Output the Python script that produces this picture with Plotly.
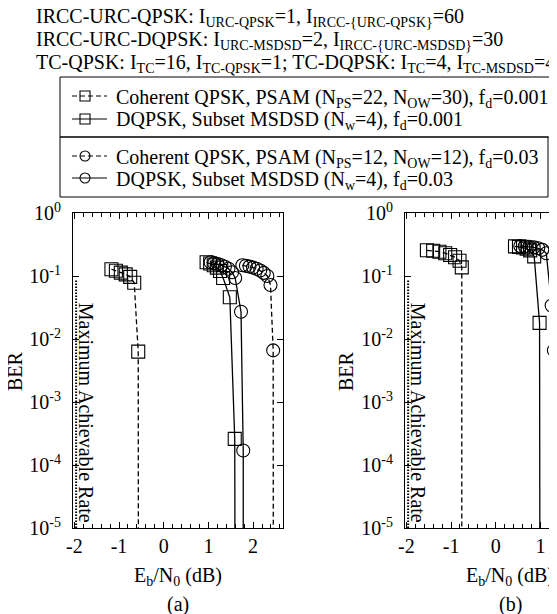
import plotly.graph_objects as go

FONT = "Liberation Serif, Times New Roman, serif"

# ---------------- data (Eb/N0 in dB, BER) ----------------
# subplot (a)
a_coh001_x = [-1.17, -1.07, -0.96, -0.85, -0.75, -0.66, -0.57, -0.565]
a_coh001_ber = [0.128, 0.121, 0.113, 0.106, 0.097, 0.078, 0.0063, 1e-7]
a_dq001_x = [0.96, 1.04, 1.12, 1.19, 1.26, 1.33, 1.48, 1.59, 1.6]
a_dq001_ber = [0.165, 0.158, 0.148, 0.136, 0.12, 0.093, 0.046, 2.6e-4, 1e-7]
a_coh003_x = [1.76, 1.84, 1.92, 2.0, 2.08, 2.16, 2.24, 2.32, 2.39, 2.45, 2.455]
a_coh003_ber = [0.148, 0.145, 0.141, 0.136, 0.13, 0.122, 0.112, 0.1, 0.072, 0.0066, 1e-7]
a_dq003_x = [1.05, 1.13, 1.21, 1.29, 1.37, 1.45, 1.53, 1.6, 1.73, 1.78, 1.78]
a_dq003_ber = [0.165, 0.16, 0.155, 0.148, 0.14, 0.13, 0.115, 0.093, 0.027, 1.7e-4, 1e-7]

# subplot (b)
b_coh001_x = [-1.54, -1.40, -1.26, -1.13, -1.02, -0.91, -0.81, -0.76, -0.76]
b_coh001_ber = [0.256, 0.252, 0.243, 0.23, 0.215, 0.198, 0.175, 0.137, 1e-7]
b_dq001_x = [0.43, 0.52, 0.61, 0.69, 0.77, 0.86, 0.98, 0.99]
b_dq001_ber = [0.295, 0.29, 0.283, 0.272, 0.255, 0.205, 0.018, 1e-7]
b_dq003_x = [0.55, 0.65, 0.75, 0.85, 0.95, 1.04, 1.13, 1.25, 1.3, 1.3]
b_dq003_ber = [0.3, 0.297, 0.292, 0.285, 0.275, 0.26, 0.23, 0.034, 0.0066, 1e-7]

# capacity ("Maximum Achievable Rate") limit
cap_x = [-1.96, -1.96]
cap_ber = [0.085, 1e-7]

y_tickvals = [1e-5, 1e-4, 1e-3, 1e-2, 1e-1, 1]
y_ticktext = ["10<sup>-5</sup>", "10<sup>-4</sup>", "10<sup>-3</sup>",
              "10<sup>-2</sup>", "10<sup>-1</sup>", "10<sup>0</sup>"]
x_tickvals = [-2, -1, 0, 1, 2]
x_ticktext = ["-2", "-1", "0", "1", "2"]

names = [
    "Coherent QPSK, PSAM (N<sub>PS</sub>=22, N<sub>OW</sub>=30), f<sub>d</sub>=0.001",
    "DQPSK, Subset MSDSD (N<sub>w</sub>=4), f<sub>d</sub>=0.001",
    "Coherent QPSK, PSAM (N<sub>PS</sub>=12, N<sub>OW</sub>=12), f<sub>d</sub>=0.03",
    "DQPSK, Subset MSDSD (N<sub>w</sub>=4), f<sub>d</sub>=0.03",
]
legend_symbols = ["square-open", "square-open", "circle-open", "circle-open"]
legend_dashes = ["5px,3px", "solid", "5px,3px", "solid"]

title_lines = [
    "IRCC-URC-QPSK: I<sub>URC-QPSK</sub>=1, I<sub>IRCC-{URC-QPSK}</sub>=60",
    "IRCC-URC-DQPSK: I<sub>URC-MSDSD</sub>=2, I<sub>IRCC-{URC-MSDSD}</sub>=30",
    "TC-QPSK: I<sub>TC</sub>=16, I<sub>TC-QPSK</sub>=1; TC-DQPSK: I<sub>TC</sub>=4, I<sub>TC-MSDSD</sub>=4",
]

DASH = "5px,3px"
# page has an 8px body margin: screen (X, Y) -> figure (X-8, Y-8)
OFF = 8
SW, SH = 557, 614
W, H = SW - OFF, SH - OFF


def px(X):
    return (X - OFF) / W


def py(Y):
    return 1 - (Y - OFF) / H


fig = go.Figure()


def add(x, y, name, sym, dash, xa, ya):
    fig.add_trace(go.Scatter(
        x=x, y=y, name=name, mode="lines+markers",
        line=dict(color="black", width=1.3, dash=dash),
        marker=dict(symbol=sym, size=13, color="black", line=dict(width=1.1, color="black")),
        xaxis=xa, yaxis=ya, showlegend=False,
    ))


add(a_coh001_x, a_coh001_ber, names[0], "square-open", DASH, "x", "y")
add(a_dq001_x, a_dq001_ber, names[1], "square-open", "solid", "x", "y")
add(a_coh003_x, a_coh003_ber, names[2], "circle-open", DASH, "x", "y")
add(a_dq003_x, a_dq003_ber, names[3], "circle-open", "solid", "x", "y")
add(b_coh001_x, b_coh001_ber, names[0], "square-open", DASH, "x2", "y2")
add(b_dq001_x, b_dq001_ber, names[1], "square-open", "solid", "x2", "y2")
add(b_dq003_x, b_dq003_ber, names[3], "circle-open", "solid", "x2", "y2")

for xa, ya in [("x", "y"), ("x2", "y2")]:
    fig.add_trace(go.Scatter(
        x=cap_x, y=cap_ber, mode="lines", showlegend=False,
        line=dict(color="black", width=2, dash="1.5px,1.5px"),
        xaxis=xa, yaxis=ya, hoverinfo="skip",
    ))

# ---------------- legend (two boxed groups, drawn on a pixel overlay axis) ----------------
row_y = [96, 119, 156, 178]
for i in range(4):
    fig.add_trace(go.Scatter(
        x=[72, 107], y=[row_y[i], row_y[i]], mode="lines", showlegend=False,
        line=dict(color="black", width=1.2, dash=legend_dashes[i]),
        xaxis="x3", yaxis="y3", hoverinfo="skip",
    ))
    fig.add_trace(go.Scatter(
        x=[85], y=[row_y[i]], mode="markers", showlegend=False,
        marker=dict(symbol=legend_symbols[i], size=10, color="black", line=dict(width=1.1, color="black")),
        xaxis="x3", yaxis="y3", hoverinfo="skip",
    ))

shapes = [
    dict(type="rect", xref="paper", yref="paper", x0=px(60), x1=1.01,
         y0=py(137), y1=py(77), line=dict(color="black", width=1)),
    dict(type="rect", xref="paper", yref="paper", x0=px(60), x1=px(548),
         y0=py(197), y1=py(137), line=dict(color="black", width=1)),
]

ydom = [py(528), py(213)]
xdom_a = [px(73), px(283)]
xdom_b = [px(405), 1.0]

xcommon = dict(
    showline=True, linecolor="black", linewidth=1, ticks="inside", ticklen=6,
    tickcolor="black", tickvals=x_tickvals, ticktext=x_ticktext,
    showgrid=False, zeroline=False,
    tickfont=dict(family=FONT, size=20, color="black"),
    minor=dict(ticks="inside", ticklen=4, dtick=0.2, tick0=0, tickcolor="black", showgrid=False),
)
ycommon = dict(
    type="log", range=[-5, 0], showline=True, linecolor="black", linewidth=1,
    ticks="inside", ticklen=6, tickcolor="black", tickvals=y_tickvals, ticktext=y_ticktext,
    showgrid=False, zeroline=False, ticklabelstandoff=7,
    tickfont=dict(family=FONT, size=20, color="black"),
)

annotations = []
for i, t in enumerate(title_lines):
    annotations.append(dict(
        text=t, xref="paper", yref="paper", x=px(34), y=py(18 + 22.5 * i),
        xanchor="left", yanchor="middle", align="left", showarrow=False,
        font=dict(family=FONT, size=20, color="black"),
    ))
for i, t in enumerate(names):
    annotations.append(dict(
        text=t, xref="paper", yref="paper", x=px(114), y=py(row_y[i] + 2),
        xanchor="left", yanchor="middle", align="left", showarrow=False,
        font=dict(family=FONT, size=20, color="black"),
    ))
for xr, yr in [("x", "y"), ("x2", "y2")]:
    annotations.append(dict(
        text="Maximum Achievable Rate", xref=xr, yref=yr, x=-1.74, y=-3.17,
        textangle=90, showarrow=False, font=dict(family=FONT, size=20, color="black"),
    ))
for bx in [15, 346]:
    annotations.append(dict(
        text="BER", xref="paper", yref="paper", x=px(bx), y=py(371),
        xanchor="center", yanchor="middle", textangle=-90, showarrow=False,
        font=dict(family=FONT, size=20, color="black"),
    ))
for cx, lab in [(178, "(a)"), (510, "(b)")]:
    annotations.append(dict(
        text="E<sub>b</sub>/N<sub>0</sub> (dB)", xref="paper", yref="paper",
        x=px(cx), y=py(576), xanchor="center", yanchor="middle", showarrow=False,
        font=dict(family=FONT, size=20, color="black"),
    ))
    annotations.append(dict(
        text=lab, xref="paper", yref="paper", x=px(cx), y=py(604),
        xanchor="center", yanchor="middle", showarrow=False,
        font=dict(family=FONT, size=20, color="black"),
    ))

fig.update_layout(
    width=W, height=H, margin=dict(l=0, r=0, t=0, b=0, autoexpand=False),
    paper_bgcolor="white", plot_bgcolor="rgba(0,0,0,0)",
    font=dict(family=FONT, size=20, color="black"),
    xaxis=dict(domain=xdom_a, range=[-2.03, 2.67], anchor="y", mirror="ticks", **xcommon),
    yaxis=dict(domain=ydom, anchor="x", mirror="ticks", **ycommon),
    xaxis2=dict(domain=xdom_b, range=[-2.03, 1.37], anchor="y2", mirror="ticks", **xcommon),
    yaxis2=dict(domain=ydom, anchor="x2", mirror=False, **ycommon),
    xaxis3=dict(domain=[0, 1], range=[OFF, SW], visible=False, fixedrange=True, anchor="y3"),
    yaxis3=dict(domain=[0, 1], range=[SH, OFF], visible=False, fixedrange=True, anchor="x3"),
    shapes=shapes,
    annotations=annotations,
    showlegend=False,
)

fig.write_html("out.html")
